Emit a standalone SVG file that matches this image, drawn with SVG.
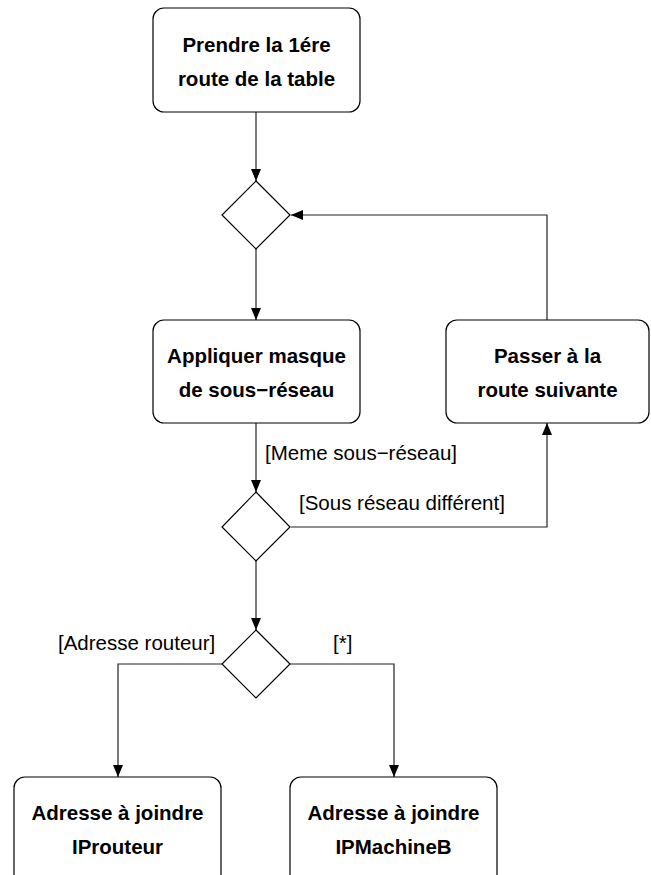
<svg xmlns="http://www.w3.org/2000/svg" width="651" height="875" viewBox="0 0 651 875">
  <style>
    .box { fill: #ffffff; stroke: #000000; stroke-width: 1.2; }
    .dia { fill: #ffffff; stroke: #000000; stroke-width: 1.2; }
    .lbl { font-family: "Liberation Sans", Arial, sans-serif; font-size: 20.5px; font-weight: bold; fill: #000000; text-anchor: middle; }
    .grd { font-family: "Liberation Sans", Arial, sans-serif; font-size: 20.5px; fill: #000000; }
    .edge { fill: none; stroke: #222222; stroke-width: 1.2; marker-end: url(#arrow); }
  </style>
  <defs>
    <marker id="arrow" viewBox="0 0 12 10" refX="12" refY="5" markerWidth="12" markerHeight="10" markerUnits="userSpaceOnUse" orient="auto">
      <path d="M0,0 L12,5 L0,10 Z" fill="#000000"/>
    </marker>
  </defs>
  <rect width="651" height="875" fill="#ffffff"/>

  <g id="connectors">
    <path class="edge" d="M256,112 L256,181"/>
    <path class="edge" d="M256,249 L256,320"/>
    <path class="edge" d="M547,320 L547,215 L291,215"/>
    <path class="edge" d="M256,423 L256,492"/>
    <path class="edge" d="M291,527 L547,527 L547,423"/>
    <path class="edge" d="M256,561 L256,630"/>
    <path class="edge" d="M222,664 L118,664 L118,777"/>
    <path class="edge" d="M290,664 L394,664 L394,777"/>
    <text class="grd" x="265" y="460">[Meme sous−réseau]</text>
    <text class="grd" x="299" y="510">[Sous réseau différent]</text>
    <text class="grd" x="58" y="650">[Adresse routeur]</text>
    <text class="grd" x="333" y="650">[*]</text>
  </g>

  <g id="start">
    <rect class="box" x="153" y="8" width="207" height="104" rx="11"/>
    <text class="lbl" x="256.5" y="52">Prendre la 1ére</text>
    <text class="lbl" x="256.5" y="86">route de la table</text>
  </g>

  <g id="merge">
    <polygon class="dia" points="256,181 290,215 256,249 222,215"/>
  </g>

  <g id="apply-mask">
    <rect class="box" x="153" y="320" width="207" height="103" rx="11"/>
    <text class="lbl" x="256.5" y="363">Appliquer masque</text>
    <text class="lbl" x="256.5" y="397">de sous−réseau</text>
  </g>

  <g id="next-route">
    <rect class="box" x="446" y="320" width="203" height="103" rx="11"/>
    <text class="lbl" x="547.5" y="363">Passer à la</text>
    <text class="lbl" x="547.5" y="397">route suivante</text>
  </g>

  <g id="subnet-check">
    <polygon class="dia" points="256,492 290,527 256,561 222,527"/>
  </g>

  <g id="router-check">
    <polygon class="dia" points="256,630 290,664 256,698 222,664"/>
  </g>

  <g id="target-router">
    <rect class="box" x="14" y="777" width="207" height="110" rx="11"/>
    <text class="lbl" x="117.5" y="820">Adresse à joindre</text>
    <text class="lbl" x="117.5" y="854">IProuteur</text>
  </g>

  <g id="target-machine">
    <rect class="box" x="290" y="777" width="207" height="110" rx="11"/>
    <text class="lbl" x="393.5" y="820">Adresse à joindre</text>
    <text class="lbl" x="393.5" y="854">IPMachineB</text>
  </g>
</svg>
